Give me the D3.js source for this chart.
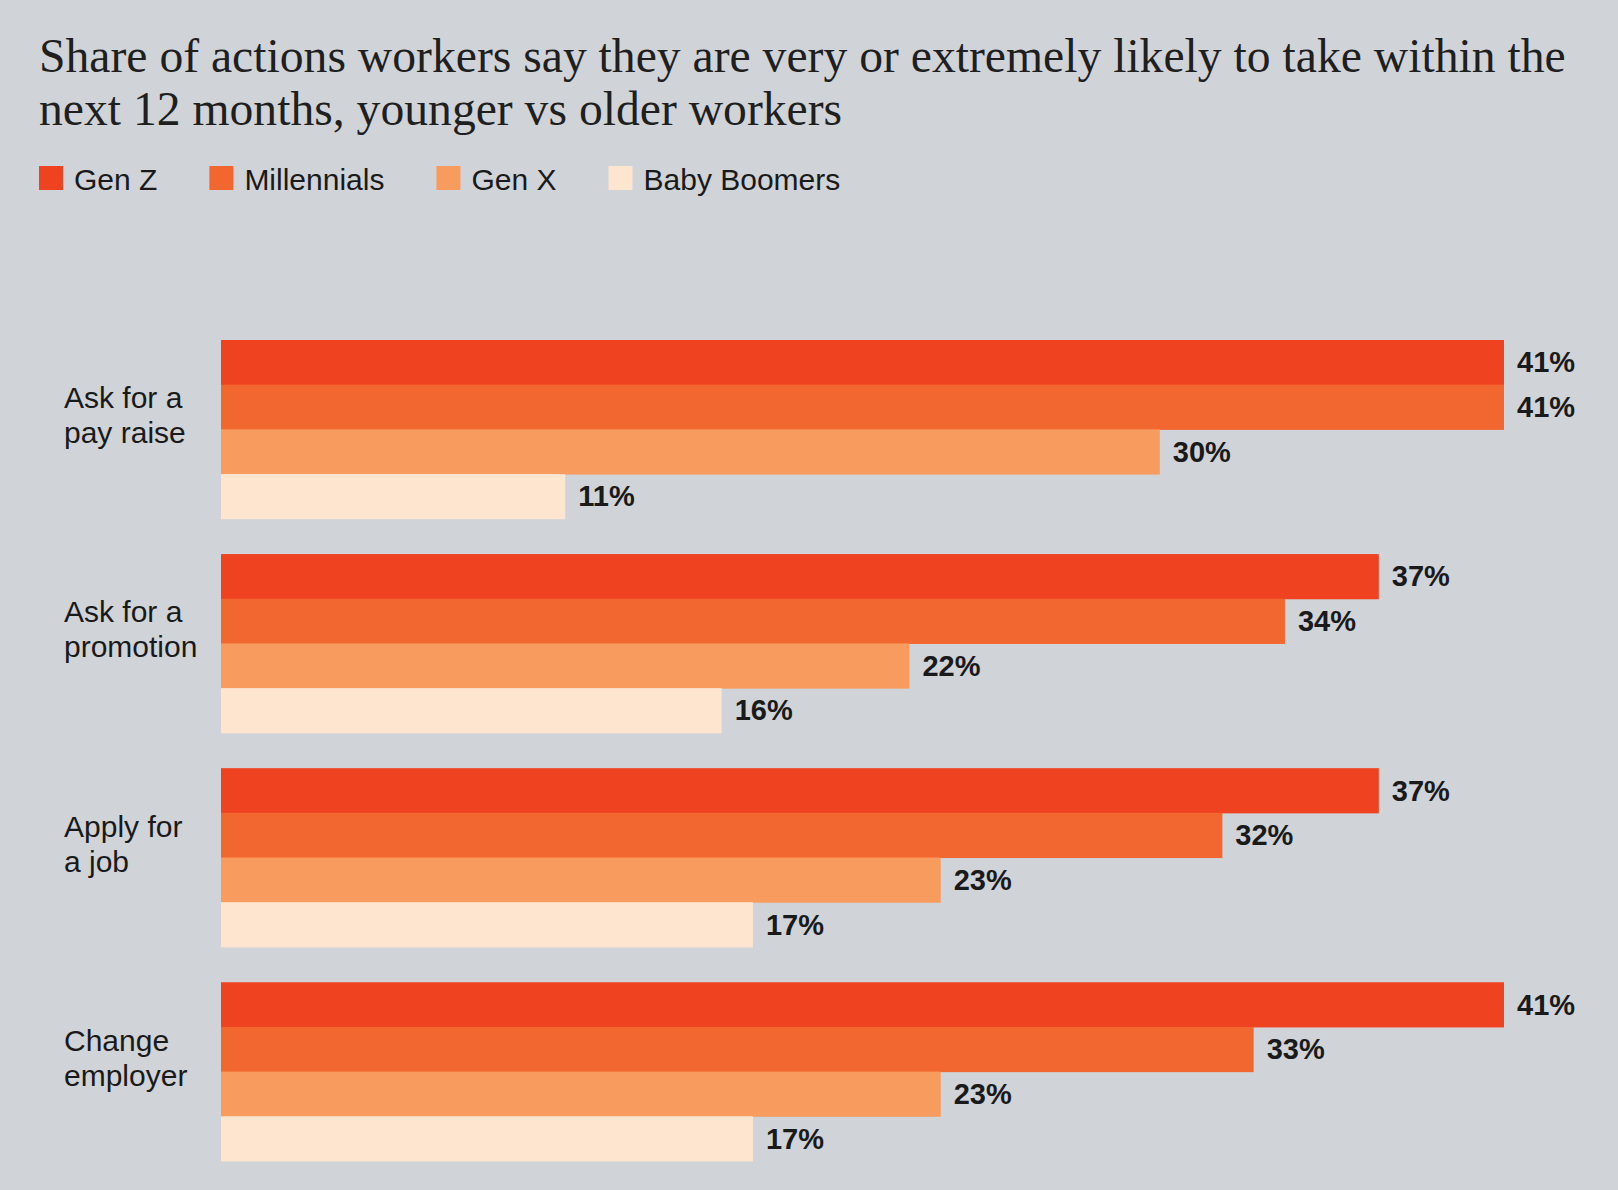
<!DOCTYPE html>
<html>
<head>
<meta charset="utf-8">
<script src="https://cdn.jsdelivr.net/npm/d3@7"></script>
<style>
  body { margin: 0; background: #d0d3d8; }
  svg { display: block; }
</style>
</head>
<body>
<svg width="1618" height="1190"></svg>
<script>
var titleLines = [
  "Share of actions workers say they are very or extremely likely to take within the",
  "next 12 months, younger vs older workers"
];
var generations = ["Gen Z", "Millennials", "Gen X", "Baby Boomers"];
var genColors = ["#ef4220", "#f26730", "#f79b5e", "#fee5cf"];
var actions = ["Ask for a pay raise", "Ask for a promotion", "Apply for a job", "Change employer"];
var actionLines = [["Ask for a", "pay raise"], ["Ask for a", "promotion"], ["Apply for", "a job"], ["Change", "employer"]];
var genZ = [41, 37, 37, 41];
var millennials = [41, 34, 32, 33];
var genX = [30, 22, 23, 23];
var boomers = [11, 16, 17, 17];

var seriesValues = [genZ, millennials, genX, boomers];

var rows = actions.map(function(a, i) {
  return {
    action: a,
    lines: actionLines[i],
    values: generations.map(function(g, j) { return { gen: g, value: seriesValues[j][i] }; })
  };
});

var svg = d3.select("svg"),
    width = +svg.attr("width"),
    height = +svg.attr("height");

svg.append("rect")
   .attr("width", width)
   .attr("height", height)
   .attr("fill", "#d0d3d8");

var color = d3.scaleOrdinal().domain(generations).range(genColors);

// title, fitted to the width of the first line
var title = svg.append("g").attr("class", "title");
var t1 = title.append("text")
   .attr("x", 39).attr("y", 72)
   .style("font-family", "'Liberation Serif', serif")
   .style("font-size", "42px")
   .attr("fill", "#1f1f1f")
   .text(titleLines[0]);
var fs = 42 * 1527 / t1.node().getComputedTextLength();
t1.style("font-size", fs + "px");
title.append("text")
   .attr("x", 39).attr("y", 125)
   .style("font-family", "'Liberation Serif', serif")
   .style("font-size", fs + "px")
   .attr("fill", "#1f1f1f")
   .text(titleLines[1]);

// legend
var legend = svg.append("g").attr("class", "legend");
var lx = 39;
generations.forEach(function(g) {
  legend.append("rect")
        .attr("x", lx).attr("y", 166)
        .attr("width", 24).attr("height", 24)
        .attr("fill", color(g));
  var txt = legend.append("text")
        .attr("x", lx + 35).attr("y", 190)
        .style("font-family", "'Liberation Sans', Arial, sans-serif")
        .style("font-size", "30px")
        .attr("fill", "#1a1a1a")
        .text(g);
  lx = lx + 35 + txt.node().getComputedTextLength() + 52;
});

var x = d3.scaleLinear()
          .domain([0, 41])
          .range([221, 1504]);

var y = d3.scaleBand()
          .domain(actions)
          .range([340, 1161])
          .paddingInner(0.165);

var yInner = d3.scaleBand()
               .domain(generations)
               .range([0, y.bandwidth()]);

var groups = svg.append("g")
                .attr("class", "bars")
                .selectAll("g")
                .data(rows)
                .enter().append("g")
                .attr("transform", function(d) { return "translate(0," + y(d.action) + ")"; });

groups.selectAll("rect")
      .data(function(d) { return d.values; })
      .enter().append("rect")
      .attr("x", x(0))
      .attr("y", function(d) { return yInner(d.gen); })
      .attr("width", function(d) { return x(d.value) - x(0); })
      .attr("height", yInner.bandwidth() + 0.5)
      .attr("fill", function(d) { return color(d.gen); });

groups.selectAll("text.value")
      .data(function(d) { return d.values; })
      .enter().append("text")
      .attr("class", "value")
      .attr("x", function(d) { return x(d.value) + 13; })
      .attr("y", function(d) { return yInner(d.gen) + yInner.bandwidth() / 2 + 10; })
      .style("font-family", "'Liberation Sans', Arial, sans-serif")
      .style("font-size", "29px")
      .style("font-weight", "bold")
      .attr("fill", "#1a1a1a")
      .text(function(d) { return d.value + "%"; });

// category labels, two lines each
var labels = groups.append("text")
      .attr("class", "label")
      .style("font-family", "'Liberation Sans', Arial, sans-serif")
      .style("font-size", "30px")
      .attr("fill", "#1a1a1a");

labels.selectAll("tspan")
      .data(function(d) { return d.lines; })
      .enter().append("tspan")
      .attr("x", 64)
      .attr("y", function(d, i) { return y.bandwidth() / 2 - 21 + i * 35; })
      .text(function(d) { return d; });
</script>
</body>
</html>
